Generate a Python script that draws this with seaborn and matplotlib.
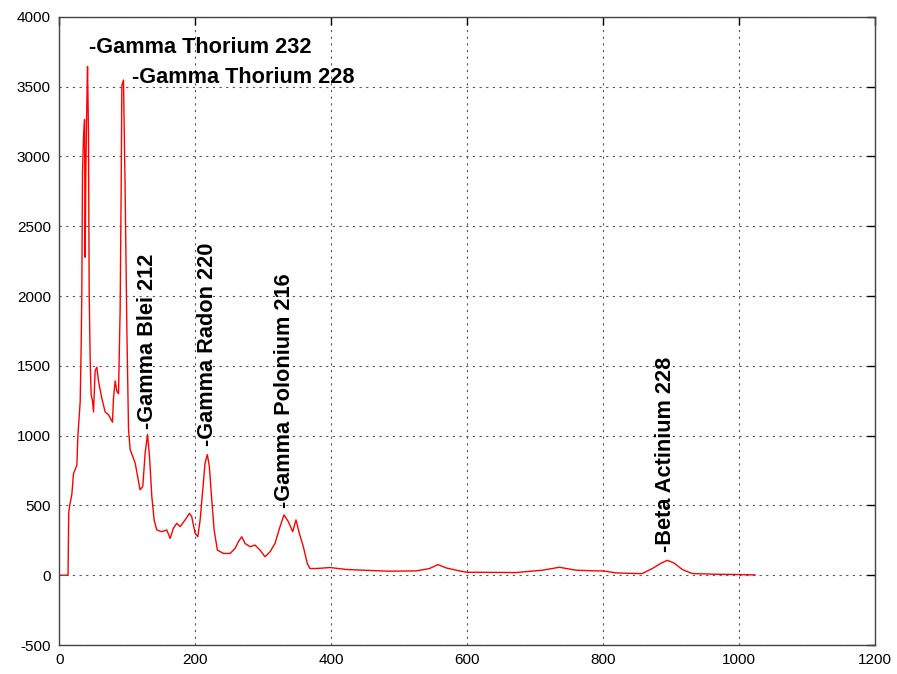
import matplotlib
matplotlib.use("Agg")
import matplotlib.pyplot as plt
import seaborn as sns
import pandas as pd

# channel positions and counts
channel = [0, 13, 14, 15.7, 18.6, 21, 26, 27.5, 30.9, 32.4, 33.3, 34.3, 35.8, 37.3, 38.2,
           39.2, 40.7, 41.7, 43.1, 44.1, 45.6, 47, 49, 50.5, 52.9, 55.4, 57.8, 62.7, 67.6,
           72.5, 78.4, 79.9, 82.4, 84.8, 87.3, 89.7, 91.2, 92.2, 94.6, 97, 99.5, 102, 104.4,
           111.8, 119, 123, 126.5, 130, 132.9, 136.3, 139.7, 143.6, 151, 158.3, 163.3, 168,
           173, 178, 185.3, 191.7, 195, 200, 204, 207.4, 211.3, 214.7, 218, 221, 224.5, 228,
           232.8, 241.7, 251.5, 258.8, 263.7, 268.6, 273.5, 280.9, 288.2, 295.6, 302.9, 310.3,
           317.6, 325, 330.8, 337.2, 343.6, 348.5, 353.4, 359.3, 365.1, 369, 378.9, 398.5,
           423, 447.5, 484.2, 525.7, 545, 557.5, 569.7, 589, 600, 623.5, 672, 711.5, 736,
           760.4, 789.7, 800.5, 819, 848.6, 858, 872.9, 885, 894.9, 904.6, 917, 931.6,
           965.8, 1000, 1024.5]
counts = [0, 0, 450, 505, 579, 727, 788, 998, 1244, 1663, 2032, 2894, 3140, 3264, 2278,
          2900, 3387, 3645, 3170, 2032, 1540, 1293, 1250, 1170, 1466, 1490, 1392, 1268, 1170,
          1150, 1096, 1268, 1392, 1318, 1300, 1909, 2771, 3510, 3547, 2771, 1786, 1047, 900,
          804, 612, 636, 876, 1008, 852, 564, 396, 324, 312, 324, 264, 336,
          372, 348, 396, 444, 420, 300, 276, 396, 612, 804, 864, 780, 540, 324,
          180, 156, 156, 192, 240, 276, 228, 204, 216, 180, 132, 168,
          228, 348, 432, 384, 312, 396, 300, 204, 84, 48, 48, 55,
          41, 36, 29, 31, 48, 76, 52, 31, 21, 21, 19, 36, 57,
          36, 31, 31, 17, 12, 12, 48, 84, 107, 88, 41, 12,
          7, 5, 2]

labels = ["-Gamma Thorium 232", "-Gamma Thorium 228", "-Gamma Blei 212",
          "-Gamma Radon 220", "-Gamma Polonium 216", "-Beta Actinium 228"]
label_x = [44, 107, 130, 218, 332, 893]
label_y = [3780, 3565, 1045, 925, 485, 165]
label_rot = [0, 0, 90, 90, 90, 90]

df = pd.DataFrame({"channel": channel, "counts": counts})

sns.set_style("white")
plt.rcParams["font.family"] = ["Liberation Sans", "DejaVu Sans"]
plt.rcParams["axes.unicode_minus"] = False
plt.rcParams["text.color"] = "black"

fig = plt.figure(figsize=(8.97, 6.74), dpi=100)
ax = fig.add_axes([0.066, 0.043, 0.909, 0.932])

sns.lineplot(data=df, x="channel", y="counts", sort=False, color="red", linewidth=1.0, ax=ax)

for txt, lx, ly, rot in zip(labels, label_x, label_y, label_rot):
    if rot == 0:
        ax.text(lx, ly, txt, fontsize=15.7, fontweight="bold", color="black",
                ha="left", va="center")
    else:
        ax.text(lx, ly, txt, fontsize=15.7, fontweight="bold", color="black", rotation=90,
                ha="center", va="bottom")

ax.set_xlim(0, 1200)
ax.set_ylim(-500, 4000)
ax.set_xticks(range(0, 1201, 200))
ax.set_yticks(range(-500, 4001, 500))
ax.set_xlabel("")
ax.set_ylabel("")
ax.grid(True, color="#555555", linestyle=(0, (2, 4)), linewidth=0.8)
ax.tick_params(direction="in", length=6, width=1, top=True, right=True,
               labelsize=11, colors="black", pad=6)
for side in ax.spines.values():
    side.set_color("#444444")
    side.set_linewidth(1.0)
    side.set_visible(True)

fig.savefig("out.png", dpi=100)
